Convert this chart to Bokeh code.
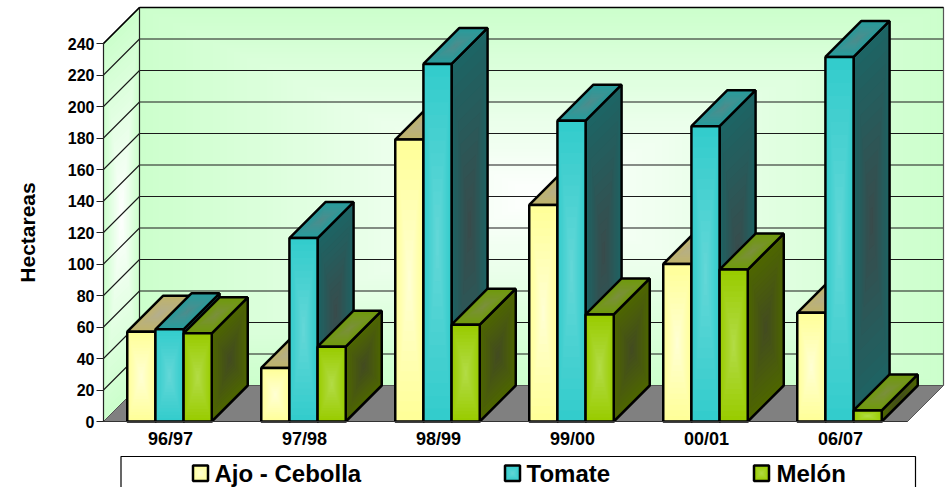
from bokeh.plotting import figure
from bokeh.models import ColumnDataSource, FixedTicker, Range1d
from bokeh.core.properties import value
from bokeh.embed import file_html
from bokeh.resources import INLINE

categories = ["96/97", "97/98", "98/99", "99/00", "00/01", "06/07"]
ajo_cebolla = [57, 34, 179, 137.5, 100, 69]
tomate = [58.5, 116.5, 227, 191, 187.5, 231.5]
melon = [56, 47.5, 61.5, 68, 96.5, 7]
y_ticks = list(range(0, 241, 20))
series_names = ["Ajo - Cebolla", "Tomate", "Melón"]

# face colours: (edge, centre)
FRONT = [("#FFFF99", "#FFFFD6"), ("#33CCCC", "#66D8D8"), ("#99CC00", "#B4DC4A")]
TOP = [("#BFB36A", "#B3AE90"), ("#269C9C", "#508C8C"), ("#6F9A0A", "#7C8F40")]
SIDE = [("#80804D", "#5A5A48"), ("#1D6464", "#3A4A4A"), ("#4E6600", "#424A22")]

# geometry (pixels of the page)
PX_X0, PX_UNIT = 103.0, 134.0
PX_Y0, PX_VAL = 421.0, 1.575
DEPTH_PX = 36.0
W, H = 951, 487
OX, OY = 0, 0
dx = DEPTH_PX / PX_UNIT
dy = DEPTH_PX / PX_VAL
bar_w = 84.5 / 3 / PX_UNIT
bar_shift = -1.0 / PX_UNIT
n_cat = len(categories)
y_max = y_ticks[-1]


def ux(px):
    return (px - PX_X0) / PX_UNIT


def uy(py):
    return (PX_Y0 - py) / PX_VAL


def hexrgb(c):
    return [int(c[i:i + 2], 16) for i in (1, 3, 5)]


def lerp(a, b, t):
    a, b = hexrgb(a), hexrgb(b)
    return "#%02x%02x%02x" % tuple(round(a[i] + (b[i] - a[i]) * t) for i in range(3))


rows = dict(xs=[], ys=[], fill=[], fa=[], la=[], lw=[])


def face(xs, ys, edge, centre, steps=14, lw=2.5):
    cx, cy = sum(xs) / len(xs), sum(ys) / len(ys)
    for i in range(steps):
        t = i / steps
        s = 1 - t
        rows["xs"].append([cx + (x - cx) * s for x in xs])
        rows["ys"].append([cy + (y - cy) * s for y in ys])
        rows["fill"].append(lerp(edge, centre, t))
        rows["fa"].append(1.0)
        rows["la"].append(0.0)
        rows["lw"].append(0.0)
    if lw:
        rows["xs"].append(list(xs))
        rows["ys"].append(list(ys))
        rows["fill"].append(edge)
        rows["fa"].append(0.0)
        rows["la"].append(1.0)
        rows["lw"].append(lw)


p = figure(
    width=W, height=H, output_backend="svg", toolbar_location=None,
    x_range=Range1d(ux(OX), ux(OX + W)), y_range=Range1d(uy(OY + H), uy(OY)),
    min_border=0, outline_line_color=None, background_fill_color="white",
)
p.grid.visible = False

# walls and floor
face([0, 0, dx, dx], [0, y_max, y_max + dy, dy], "#CCFFCC", "#FFFFFF", steps=36, lw=0)
face([dx, dx, n_cat + dx, n_cat + dx], [dy, y_max + dy, y_max + dy, dy], "#CCFFCC", "#FFFFFF", steps=60, lw=0)
walls = ColumnDataSource(rows)
p.patches("xs", "ys", source=walls, fill_color="fill", fill_alpha="fa", line_alpha=0)
p.patch([0, n_cat, n_cat + dx, dx], [0, 0, dy, dy], fill_color="#808080", line_color="#555555", line_width=1)

# gridlines on both walls
p.multi_line(
    [[0, dx, n_cat + dx] for _ in y_ticks[1:]],
    [[v, v + dy, v + dy] for v in y_ticks[1:]],
    line_color="#1a1a1a", line_width=1.1,
)
p.line([dx, dx], [dy, y_max + dy], line_color="#222222", line_width=1.2)
p.line([n_cat + dx, n_cat + dx], [dy, y_max + dy], line_color="#555555", line_width=1.2)
p.line([dx, n_cat + dx], [y_max + dy, y_max + dy], line_color="black", line_width=1.4)
p.line([0, dx], [y_max, y_max + dy], line_color="black", line_width=1.4)

# bars
rows = dict(xs=[], ys=[], fill=[], fa=[], la=[], lw=[])
series = [ajo_cebolla, tomate, melon]
for c in range(n_cat):
    left = c + 0.5 - 1.5 * bar_w + bar_shift
    for s, vals in enumerate(series):
        v = vals[c]
        x0 = left + s * bar_w
        x1 = x0 + bar_w
        face([x1, x1, x1 + dx, x1 + dx], [0, v, v + dy, dy], *SIDE[s])
        face([x0, x1, x1 + dx, x0 + dx], [v, v, v + dy, v + dy], *TOP[s])
        face([x0, x0, x1, x1], [0, v, v, 0], *FRONT[s])

# legend box and swatches
box_l, box_r, box_t, box_b = ux(120.5), ux(915), uy(456), uy(500)
p_box = p.quad(left=[box_l], right=[box_r], top=[box_t], bottom=[box_b], fill_color="white", line_color="black", line_width=1.2)
swatch_px = [192.5, 504.5, 753.5]
text_px = [214, 526, 776]
for s in range(3):
    x0, x1 = ux(swatch_px[s]), ux(swatch_px[s] + 15)
    y0, y1 = uy(480.5), uy(465)
    face([x0, x0, x1, x1], [y0, y1, y1, y0], *FRONT[s], steps=8)
p.patches("xs", "ys", source=ColumnDataSource(rows), fill_color="fill", fill_alpha="fa",
          line_color="black", line_alpha="la", line_width="lw")
p.text([ux(t) for t in text_px], [uy(472.7)] * 3, text=series_names, text_font=value("Liberation Sans"),
       text_font_style="bold", text_font_size="24px", text_color="black", text_baseline="middle", text_align="left")

# axes
ya = p.yaxis[0]
ya.fixed_location = 0
ya.bounds = (0, y_max)
ya.ticker = FixedTicker(ticks=y_ticks)
ya.minor_tick_line_color = None
ya.major_tick_in = 0
ya.major_tick_out = 7
ya.major_tick_line_color = "#222222"
ya.axis_line_color = "#222222"
ya.axis_line_width = 1.2
ya.major_label_standoff = 2
ya.major_label_text_font = "Liberation Sans"
ya.major_label_text_font_style = "bold"
ya.major_label_text_font_size = "16px"
ya.major_label_text_color = "black"
ya.axis_label = "Hectareas"
ya.axis_label_text_font = "Liberation Sans"
ya.axis_label_text_font_style = "bold"
ya.axis_label_text_font_size = "21px"
ya.axis_label_text_color = "black"
ya.axis_label_standoff = 26

xa = p.xaxis[0]
xa.fixed_location = 0
xa.bounds = (0, n_cat)
centres = [c + 0.5 for c in range(n_cat)]
xa.ticker = FixedTicker(ticks=centres)
xa.major_label_overrides = {c + 0.5: categories[c] for c in range(n_cat)}
xa.minor_tick_line_color = None
xa.major_tick_line_color = None
xa.major_tick_in = 0
xa.major_tick_out = 0
xa.axis_line_color = "#333333"
xa.axis_line_width = 1.2
xa.major_label_standoff = 7
xa.major_label_text_font = "Liberation Sans"
xa.major_label_text_font_style = "bold"
xa.major_label_text_font_size = "18px"
xa.major_label_text_color = "black"

open("out.html", "w").write(file_html(p, INLINE))
